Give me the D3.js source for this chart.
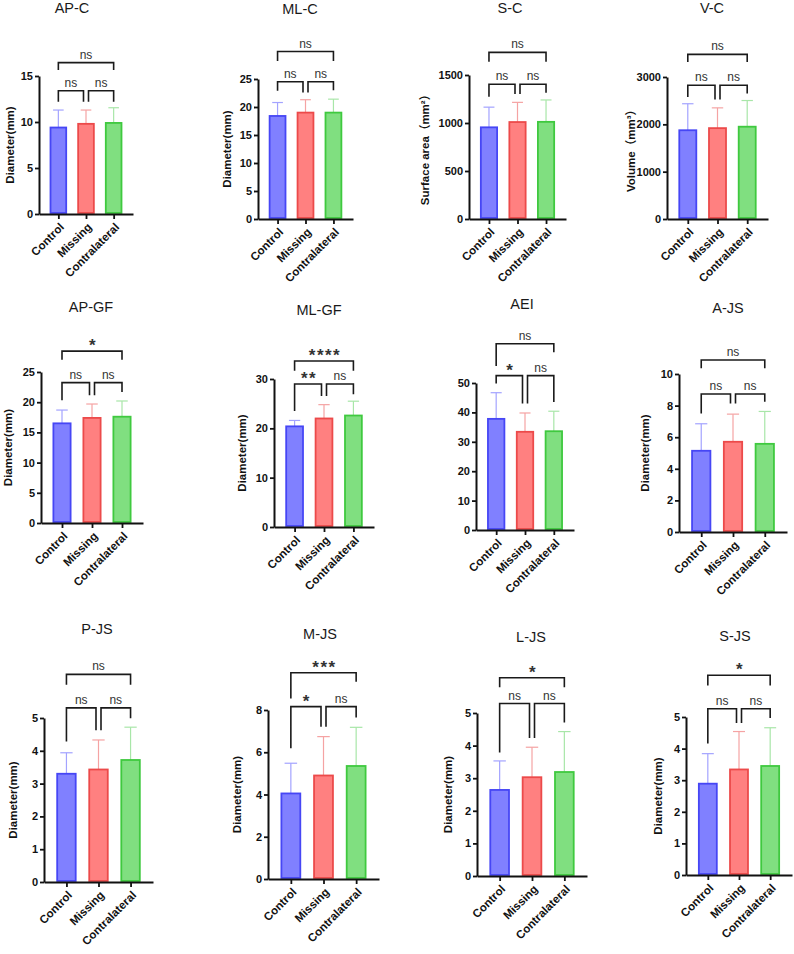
<!DOCTYPE html>
<html>
<head>
<meta charset="utf-8">
<script src="https://cdn.jsdelivr.net/npm/d3@7"></script>
<style>
  body { margin: 0; background: #fff; }
  svg { font-family: "Liberation Sans", Arial, "Noto Sans CJK SC", sans-serif; }
  .title { font-size: 14.5px; fill: #1a1a1a; text-anchor: middle; }
  .ylab { font-size: 11.5px; font-weight: bold; fill: #111; text-anchor: middle; }
  .tick text { font-size: 11px; font-weight: bold; fill: #111; }
  .domain, .tick line { stroke: #111; }
  .sig { fill: #333; text-anchor: middle; }
</style>
</head>
<body>
<svg width="794" height="954"></svg>
<script>
// ---- data ----
var categories = ["Control", "Missing", "Contralateral"];
var titles = ["AP-C", "ML-C", "S-C", "V-C", "AP-GF", "ML-GF", "AEI", "A-JS", "P-JS", "M-JS", "L-JS", "S-JS"];
var yLabels = ["Diameter(mm)", "Diameter(mm)", "Surface area（mm²）", "Volume（mm³）", "Diameter(mm)", "Diameter(mm)", "",
               "Diameter(mm)", "Diameter(mm)", "Diameter(mm)", "Diameter(mm)", "Diameter(mm)"];
var yTicks = [[0,5,10,15], [0,5,10,15,20,25], [0,500,1000,1500], [0,1000,2000,3000],
              [0,5,10,15,20,25], [0,10,20,30], [0,10,20,30,40,50], [0,2,4,6,8,10],
              [0,1,2,3,4,5], [0,2,4,6,8], [0,1,2,3,4,5], [0,1,2,3,4,5]];
var means = [[9.4, 9.8, 9.9], [18.4, 19.0, 19.0], [955, 1010, 1012], [1875, 1920, 1950],
             [16.5, 17.4, 17.6], [20.4, 22.0, 22.6], [37.8, 33.4, 33.6], [5.14, 5.71, 5.58],
             [3.30, 3.43, 3.72], [4.05, 4.90, 5.35], [2.64, 3.03, 3.19], [2.89, 3.34, 3.45]];
var sds = [[1.9, 1.5, 1.65], [2.4, 2.3, 2.4], [210, 205, 228], [560, 428, 553],
           [2.2, 2.3, 2.6], [1.2, 2.8, 2.9], [8.9, 6.4, 6.8], [1.71, 1.75, 2.05],
           [0.64, 0.90, 1.00], [1.43, 1.84, 1.83], [0.89, 0.92, 1.24], [0.95, 1.20, 1.21]];
// comparisons: Control-Missing, Missing-Contralateral, Control-Contralateral
var pairs = [[0, 1], [1, 2], [0, 2]];
var sigLabels = [["ns","ns","ns"], ["ns","ns","ns"], ["ns","ns","ns"], ["ns","ns","ns"],
                 ["ns","ns","*"], ["**","ns","****"], ["*","ns","ns"], ["ns","ns","ns"],
                 ["ns","ns","ns"], ["*","ns","***"], ["ns","ns","*"], ["ns","ns","*"]];
var bracketLevels = [[13.4, 13.4, 16.45], [24.5, 24.5, 29.9], [1403, 1403, 1736], [2825, 2825, 3477],
                     [23.24, 23.24, 28.46], [29.0, 29.0, 33.65], [52.5, 52.5, 63.35], [8.73, 8.73, 10.89],
                     [5.31, 5.31, 6.33], [8.16, 8.16, 9.76], [5.29, 5.29, 6.08], [5.26, 5.26, 6.32]];
var legEnds = [
  [[12.2, 12.2], [12.2, 12.2], [15.65, 15.65]],
  [[22.9, 22.6], [22.6, 23.0], [28.2, 28.2]],
  [[1274, 1302], [1302, 1316], [1639, 1639]],
  [[2579, 2523], [2523, 2649], [3315, 3315]],
  [[20.33, 21.15], [21.15, 21.7], [27.03, 27.03]],
  [[23.53, 26.57], [26.57, 26.9], [31.69, 31.69]],
  [[49.8, 43.0], [43.0, 43.55], [55.8, 60.5]],
  [[7.5, 8.14], [8.14, 8.25], [10.36, 10.36]],
  [[4.28, 4.63], [4.63, 4.99], [6.01, 6.01]],
  [[6.19, 7.21], [7.21, 7.65], [8.55, 9.34]],
  [[3.79, 4.23], [4.23, 4.71], [5.79, 5.79]],
  [[4.16, 4.81], [4.81, 4.97], [6.0, 6.0]]
];

// ---- layout: [axisX, axisEndX, topTickY, zeroY, yLabelOffset, titleX, titleBaseline] ----
var frames = [
  [39, 133, 76, 214, 29, 72, 13], [258, 353, 79, 219, 31, 300, 14],
  [469, 566, 75, 219, 44, 510, 13], [667, 768, 77, 219, 36, 712, 13],
  [41, 143, 372, 523, 33, 91, 312], [274, 374, 379, 527, 32, 319, 315],
  [476, 574, 383, 530, 0, 522, 309], [679, 787, 374, 532, 34, 728, 313],
  [44, 153, 718, 882, 31, 97, 634], [268, 379, 710, 879, 31, 320, 639],
  [477, 587, 713, 876, 29, 531, 642], [686, 792, 717, 875, 28, 735, 641]
];
var fills = ["#8080ff", "#ff8080", "#80df80"];
var strokes = ["#4646f5", "#ec4a4a", "#3fc93f"];
var errColors = ["#a3a3ff", "#f5a3a3", "#a8e6a8"];

var svg = d3.select("svg");

titles.forEach(function(t, p) {
  var f = frames[p];
  var yMax = yTicks[p][yTicks[p].length - 1];
  var x = d3.scalePoint().domain(categories).range([f[0], f[1]]).padding(0.7);
  var y = d3.scaleLinear().domain([0, yMax]).range([f[3], f[2]]);
  var step = x.step();
  var bw = step * 0.64;
  var g = svg.append("g");

  g.append("text").attr("class", "title").attr("x", f[5]).attr("y", f[6]).text(t);

  // error bars (upper only)
  categories.forEach(function(c, i) {
    var cx = x(c);
    g.append("line").attr("x1", cx).attr("x2", cx)
      .attr("y1", y(means[p][i])).attr("y2", y(means[p][i] + sds[p][i]))
      .attr("stroke", errColors[i]).attr("stroke-width", 1.2);
    g.append("line").attr("x1", cx - bw * 0.3).attr("x2", cx + bw * 0.3)
      .attr("y1", y(means[p][i] + sds[p][i])).attr("y2", y(means[p][i] + sds[p][i]))
      .attr("stroke", errColors[i]).attr("stroke-width", 1.2);
  });

  // bars
  g.selectAll("rect.bar").data(means[p]).enter().append("rect")
    .attr("x", function(d, i) { return x(categories[i]) - bw / 2 + 1; })
    .attr("y", function(d) { return y(d); })
    .attr("width", bw - 2)
    .attr("height", function(d) { return f[3] - y(d) - 1; })
    .attr("fill", function(d, i) { return fills[i]; })
    .attr("stroke", function(d, i) { return strokes[i]; })
    .attr("stroke-width", 1.8);

  // axes
  var ya = g.append("g").attr("transform", "translate(" + f[0] + ",0)")
    .call(d3.axisLeft(y).tickValues(yTicks[p]).tickFormat(function(d) { return d; })
      .tickSize(4).tickSizeOuter(0).tickPadding(2));
  var xa = g.append("g").attr("transform", "translate(0," + f[3] + ")")
    .call(d3.axisBottom(x).tickSize(5).tickSizeOuter(0));
  ya.select(".domain").attr("stroke-width", 2);
  xa.select(".domain").attr("stroke-width", 2);
  ya.selectAll(".tick line").attr("stroke-width", 1.8);
  xa.selectAll(".tick line").attr("stroke-width", 1.8);
  ya.selectAll(".tick text").attr("fill", "#111");
  xa.selectAll(".tick text")
    .attr("y", 0).attr("x", 0).attr("dy", "0.35em")
    .attr("transform", "translate(3,11) rotate(-45)")
    .style("text-anchor", "end").style("font-size", "11.5px").attr("fill", "#111");

  // y label
  if (yLabels[p]) {
    g.append("text").attr("class", "ylab")
      .attr("transform", "translate(" + (f[0] - f[4]) + "," + ((f[2] + f[3]) / 2) + ") rotate(-90)")
      .attr("dy", "0.35em")
      .text(yLabels[p]);
  }

  // significance brackets
  pairs.forEach(function(pr, k) {
    var lv = y(bracketLevels[p][k]);
    var xa1 = x(categories[pr[0]]), xb1 = x(categories[pr[1]]);
    if (k === 0) xb1 -= 2.5;
    if (k === 1) xa1 += 2.5;
    var pts = [[xa1, y(legEnds[p][k][0])], [xa1, lv], [xb1, lv], [xb1, y(legEnds[p][k][1])]];
    g.append("path").attr("d", d3.line()(pts))
      .attr("fill", "none").attr("stroke", "#1a1a1a").attr("stroke-width", 1.6);
    var lab = sigLabels[p][k];
    var star = lab.indexOf("*") === 0;
    g.append("text").attr("class", "sig")
      .attr("x", (xa1 + xb1) / 2 + (star ? 1 : 0))
      .attr("y", lv - (star ? 0 : 4))
      .style("font-size", star ? "17px" : "12px")
      .style("font-weight", star ? "bold" : "normal")
      .style("letter-spacing", star ? "1.5px" : "0px")
      .text(lab);
  });
});
</script>
</body>
</html>
